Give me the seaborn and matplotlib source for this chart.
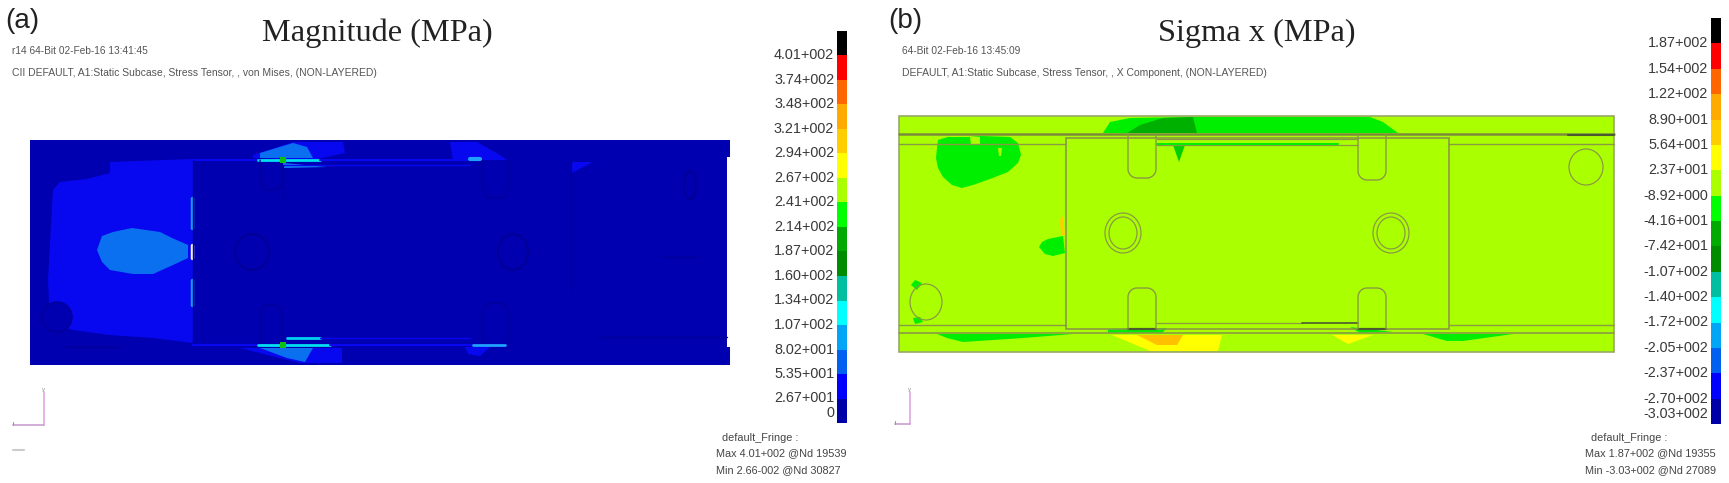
"""Fringe plots of a plate joint: von Mises magnitude and x stress."""

import numpy as np
import pandas as pd
import matplotlib.pyplot as plt
from matplotlib.colors import ListedColormap
from matplotlib.patches import Ellipse, Rectangle
import seaborn as sns

# ── Fringe legends ──────────────────────────────────────────────────────────
FRINGE_COLORS = ["#000000", "#ff0000", "#ff6600", "#ffaa00", "#ffcc00", "#ffff00",
                 "#aaff00", "#00ff00", "#00aa00", "#008c00", "#00bfa0", "#00ffff",
                 "#00a5f5", "#0060f0", "#0000ff", "#0000a8"]
MAG_LEVELS = [401, 374, 348, 321, 294, 267, 241, 214, 187, 160, 134, 107, 80.2, 53.5, 26.7, 0]
MAG_LABELS = ["4.01+002", "3.74+002", "3.48+002", "3.21+002", "2.94+002", "2.67+002",
              "2.41+002", "2.14+002", "1.87+002", "1.60+002", "1.34+002", "1.07+002",
              "8.02+001", "5.35+001", "2.67+001", "0"]
SIG_LEVELS = [187, 154, 122, 89.0, 56.4, 23.7, -8.92, -41.6, -74.2, -107, -140, -172,
              -205, -237, -270, -303]
SIG_LABELS = ["1.87+002", "1.54+002", "1.22+002", "8.90+001", "5.64+001", "2.37+001",
              "-8.92+000", "-4.16+001", "-7.42+001", "-1.07+002", "-1.40+002", "-1.72+002",
              "-2.05+002", "-2.37+002", "-2.70+002", "-3.03+002"]
TICK_ROWS = [1, 2, 3, 4, 5, 6, 7, 8, 9, 10, 11, 12, 13, 14, 15, 15.6]

# ── Panel (a) regions in pixels ─────────────────────────────────────────────
NAVY = "#0000b0"
BLUE = "#0808f0"
SKY = "#0a70f0"
FAINT = "#000098"
A_OUTER = [(30, 140), (730, 140), (730, 157), (727, 157), (727, 347), (730, 347),
           (730, 365), (30, 365)]
A_BLUE_MAIN = [(60, 182), (87, 179), (110, 173), (110, 162), (193, 159), (193, 343),
               (153, 338), (110, 335), (73, 330), (50, 323), (48, 280), (52, 207), (53, 190)]
A_SKY_BLOB = [(97, 250), (102, 236), (113, 232), (132, 228), (160, 232), (172, 238), (188, 245),
              (188, 258), (173, 265), (153, 274), (133, 274), (110, 270), (102, 262)]
A_TOP_LOBE = [(253, 155), (293, 142), (343, 142), (345, 153), (313, 160), (253, 158)]
A_TOP_LOBE_SKY = [(260, 153), (293, 143), (307, 147), (313, 158), (260, 158)]
A_UNDER_TOP = [(283, 163), (327, 167), (283, 168)]
A_BOT_LOBE = [(240, 348), (342, 348), (342, 363), (300, 363)]
A_BOT_LOBE_SKY = [(260, 348), (313, 348), (305, 362), (287, 358)]
A_TOP_RIGHT_LOBE = [(450, 142), (477, 142), (500, 155), (507, 160), (453, 160)]
A_WEDGE = [(572, 162), (593, 162), (572, 173)]
A_BOT_RIGHT = [(465, 347), (490, 347), (480, 356), (468, 354)]
A_LINES = [((193, 258), (160, 160), BLUE, 1.5), ((258, 320), (160, 160), "#00e0f0", 2),
           ((320, 470), (160, 160), BLUE, 1.5), ((470, 480), (159, 159), "#20a0ff", 3),
           ((283, 470), (165, 165), BLUE, 1), ((193, 258), (345, 345), BLUE, 1.5),
           ((258, 330), (345, 345), "#00e0f0", 2), ((330, 475), (345, 345), BLUE, 1.5),
           ((473, 505), (345, 345), "#20a0ff", 2), ((287, 320), (338, 338), "#00d0f0", 2),
           ((320, 470), (338, 338), BLUE, 1), ((192, 192), (198, 228), "#10a0f0", 2.5),
           ((192, 192), (280, 305), "#10a0f0", 2.5), ((192, 192), (245, 258), "#f0f0f0", 2.5)]
A_DARK_LINES = [((193, 193), (160, 343)), ((571, 571), (160, 290)), ((283, 283), (165, 200)),
                ((65, 120), (347, 347)), ((663, 697), (257, 257)), ((600, 727), (337, 337))]
A_DARK_CIRCLES = [(252, 252, 17, 18), (513, 252, 15, 18), (690, 185, 6, 14)]
A_CORNER_DISC = (57, 317, 15, 15)
A_SLOTS = [(260, 282, 160, 190), (483, 508, 160, 198), (260, 282, 343, 305), (483, 508, 343, 303)]
A_HOT = [(283, 160), (283, 345)]

# ── Panel (b) regions ───────────────────────────────────────────────────────
LIME = "#aaff00"
GREEN = "#00ee00"
B_OUTER = [(899, 116), (1614, 116), (1614, 352), (899, 352)]
B_BLOB = [(938, 140), (948, 137), (970, 137), (981, 136), (1010, 137), (1018, 143), (1021, 155),
          (1018, 163), (1008, 172), (990, 179), (973, 185), (962, 188), (952, 185), (943, 177),
          (938, 168), (936, 158), (937, 148)]
B_HOLE_1 = [(970, 137), (980, 137), (980, 145), (971, 145)]
B_HOLE_2 = [(998, 148), (1002, 148), (1001, 156), (999, 156)]
B_SIDE_BLOB = [(1039, 247), (1042, 242), (1048, 239), (1063, 236), (1065, 253), (1053, 256),
               (1045, 254)]
B_RING_TOP = [(911, 285), (915, 280), (922, 283), (917, 290)]
B_RING_BOT = [(913, 318), (920, 317), (923, 322), (915, 324)]
B_TOP_BAND = [(1103, 133), (1110, 122), (1130, 118), (1193, 117), (1370, 117), (1383, 122),
              (1398, 133)]
B_TOP_DARK = [(1127, 133), (1140, 125), (1163, 118), (1193, 117), (1197, 133)]
B_DRIP = [(1173, 145), (1185, 145), (1179, 162)]
B_BOT_LEFT = [(937, 334), (1073, 334), (1023, 338), (963, 342), (947, 338)]
B_BOT_SLOT = [(1108, 329), (1155, 328), (1167, 328), (1162, 333), (1108, 333)]
B_BOT_SLOT_R = [(1350, 327), (1393, 332), (1360, 333)]
B_YELLOW = [(1112, 335), (1222, 335), (1218, 351), (1150, 351)]
B_ORANGE = [(1137, 335), (1183, 335), (1177, 345), (1157, 345)]
B_YELLOW_R = [(1332, 335), (1373, 335), (1348, 344)]
B_BOT_RIGHT = [(1423, 334), (1513, 334), (1463, 341), (1447, 341)]
B_SLIVER = [(1060, 220), (1063, 216), (1065, 235), (1061, 235)]

LINE = "#8a9a44"
DARK = "#4a5a30"
B_LINES = [((899, 1614), (134, 134), "#7c8a3c", 1.8), ((899, 1066), (144, 144), LINE, 1),
           ((1157, 1358), (139, 139), LINE, 0.9), ((1157, 1358), (145, 145), LINE, 0.9),
           ((1449, 1614), (144, 144), LINE, 1), ((899, 1066), (325, 325), LINE, 1),
           ((1449, 1614), (325, 325), LINE, 1), ((1157, 1302), (323, 323), LINE, 0.9),
           ((899, 1614), (333, 333), LINE, 1.2), ((1157, 1338), (144, 144), GREEN, 1.5),
           ((1568, 1614), (135, 135), DARK, 1.5), ((1302, 1358), (323, 323), DARK, 1.2),
           ((1128, 1156), (329, 329), DARK, 1.6), ((1358, 1386), (329, 329), DARK, 1.6)]
B_PLATE = (1066, 138, 383, 191)
B_SLOTS = [(1128, 1156, 134, 178), (1358, 1386, 134, 180), (1128, 1156, 329, 288),
           (1358, 1386, 329, 288)]
B_RINGS = [(1123, 233, 18, 20), (1123, 233, 14, 16), (1391, 233, 18, 20), (1391, 233, 14, 16),
           (926, 302, 16, 18), (1586, 167, 17, 18)]

# ── Text ────────────────────────────────────────────────────────────────────
A_STAMP = "r14 64-Bit 02-Feb-16 13:41:45"
A_SUB = "CII DEFAULT, A1:Static Subcase, Stress Tensor, , von Mises, (NON-LAYERED)"
A_FOOT = ["default_Fringe :", "Max 4.01+002 @Nd 19539", "Min 2.66-002 @Nd 30827"]
B_STAMP = "64-Bit 02-Feb-16 13:45:09"
B_SUB = "DEFAULT, A1:Static Subcase, Stress Tensor, , X Component, (NON-LAYERED)"
B_FOOT = ["default_Fringe :", "Max 1.87+002 @Nd 19355", "Min -3.03+002 @Nd 27089"]

W, H = 1729, 483
sns.set_theme(style="white")
plt.rcParams["font.family"] = ["Liberation Sans", "DejaVu Sans"]


def fill(ax, poly, color, z=2):
    xs, ys = zip(*poly)
    ax.fill(xs, ys, color=color, lw=0, zorder=z)


def slot(ax, x0, x1, y_open, y_round, color, lw, z=5):
    # U shape with rounded corners at its closed end
    r = 9
    sign = 1 if y_round > y_open else -1
    t = np.linspace(0, np.pi / 2, 8)
    left_x = x0 + r - r * np.cos(t)
    left_y = y_round - sign * r + sign * r * np.sin(t)
    xs = np.r_[x0, left_x, (x0 + x1 - left_x)[::-1], x1]
    ys = np.r_[y_open, left_y, left_y[::-1], y_open]
    ax.plot(xs, ys, color=color, lw=lw, zorder=z)


def fringe(fig, box, levels, labels):
    x0, y0, x1, y1 = box
    ax = fig.add_axes([x0 / W, 1 - y1 / H, (x1 - x0) / W, (y1 - y0) / H])
    table = pd.DataFrame({"level": levels})
    table["rank"] = table["level"].rank()
    sns.heatmap(table[["rank"]], ax=ax, cmap=ListedColormap(FRINGE_COLORS[::-1]), cbar=False,
                xticklabels=False, linewidths=0)
    ax.set_yticks(TICK_ROWS, labels, rotation=0, fontsize=10.4, color="#3a3a3a")
    ax.tick_params(axis="y", length=0, pad=2)
    ax.set_xlabel("")
    ax.set_ylabel("")


def panel_a(ax):
    fill(ax, A_OUTER, NAVY, 1)
    for poly, color in [(A_BLUE_MAIN, BLUE), (A_SKY_BLOB, SKY), (A_TOP_LOBE, BLUE),
                        (A_TOP_LOBE_SKY, SKY), (A_UNDER_TOP, "#1080f0"), (A_BOT_LOBE, BLUE),
                        (A_BOT_LOBE_SKY, SKY), (A_TOP_RIGHT_LOBE, BLUE), (A_WEDGE, BLUE),
                        (A_BOT_RIGHT, BLUE)]:
        fill(ax, poly, color)
    for xs, ys, color, lw in A_LINES:
        ax.plot(xs, ys, color=color, lw=lw, zorder=3)
    for xs, ys in A_DARK_LINES:
        ax.plot(xs, ys, color=FAINT, lw=1, zorder=4)
    for cx, cy, rx, ry in A_DARK_CIRCLES:
        ax.add_patch(Ellipse((cx, cy), 2 * rx, 2 * ry, fill=False, ec=FAINT, lw=1.6, zorder=4))
    cx, cy, rx, ry = A_CORNER_DISC
    ax.add_patch(Ellipse((cx, cy), 2 * rx, 2 * ry, fc=NAVY, ec=FAINT, lw=1, zorder=4))
    for x0, x1, y_open, y_round in A_SLOTS:
        slot(ax, x0, x1, y_open, y_round, FAINT, 1)
    xs, ys = zip(*A_HOT)
    ax.scatter(xs, ys, s=14, color="#10c010", marker="s", lw=0, zorder=6)


def panel_b(ax):
    fill(ax, B_OUTER, LIME, 1)
    for poly, color in [(B_BLOB, GREEN), (B_HOLE_1, LIME), (B_HOLE_2, LIME), (B_SIDE_BLOB, GREEN),
                        (B_RING_TOP, GREEN), (B_RING_BOT, GREEN), (B_TOP_BAND, GREEN),
                        (B_TOP_DARK, "#00b000"), (B_DRIP, "#00d000"), (B_BOT_LEFT, GREEN),
                        (B_BOT_SLOT, GREEN), (B_BOT_SLOT_R, GREEN), (B_YELLOW, "#ffff00"),
                        (B_ORANGE, "#ffc000"), (B_YELLOW_R, "#ffff00"), (B_BOT_RIGHT, GREEN),
                        (B_SLIVER, "#ffd000")]:
        fill(ax, poly, color)
    x0, y0, w, h = B_PLATE
    ax.add_patch(Rectangle((x0, y0), w, h, fill=False, ec=LINE, lw=1.2, zorder=4))
    ax.add_patch(Rectangle((899, 116), 715, 236, fill=False, ec="#98a868", lw=1.2, zorder=4))
    for xs, ys, color, lw in B_LINES:
        ax.plot(xs, ys, color=color, lw=lw, zorder=5)
    for x0, x1, y_open, y_round in B_SLOTS:
        slot(ax, x0, x1, y_open, y_round, LINE, 1)
    for cx, cy, rx, ry in B_RINGS:
        ax.add_patch(Ellipse((cx, cy), 2 * rx, 2 * ry, fill=False, ec=LINE, lw=0.9, zorder=5))


def triad(ax, x, y_top, y_low, x_left):
    ax.plot([x, x], [y_top, y_low], color="#dca8e0", lw=1.2)
    ax.plot([x_left, x], [y_low, y_low], color="#c8a0d0", lw=1.2)
    ax.plot([x_left, x_left], [y_low - 3, y_low], color="#999999", lw=0.8)
    ax.text(x, y_top - 2, "y", fontsize=4.5, color="#888888", ha="center", va="center")


def add_text(ax):
    ax.text(5, 21, "(a)", fontsize=20, color="#222222", va="center")
    ax.text(888, 21, "(b)", fontsize=20, color="#222222", va="center")
    for x, s in [(262, "Magnitude (MPa)"), (1158, "Sigma x (MPa)")]:
        ax.text(x, 33, s, fontsize=23.3, family=["Liberation Serif"], color="#222222", va="center")
    for x, stamp, sub in [(12, A_STAMP, A_SUB), (902, B_STAMP, B_SUB)]:
        ax.text(x, 51, stamp, fontsize=7.3, color="#555555", va="center")
        ax.text(x, 73, sub, fontsize=7.45, color="#555555", va="center")
    for x, lines in [(716, A_FOOT), (1585, B_FOOT)]:
        ax.text(x + 6, 438, lines[0], fontsize=7.8, color="#444444", va="center")
        ax.text(x, 453, lines[1], fontsize=7.8, color="#444444", va="center")
        ax.text(x, 470, lines[2], fontsize=7.8, color="#444444", va="center")


def main():
    fig = plt.figure(figsize=(W / 100, H / 100), dpi=100, facecolor="white")
    ax = fig.add_axes([0, 0, 1, 1])
    ax.set_xlim(0, W)
    ax.set_ylim(H, 0)
    ax.axis("off")

    panel_a(ax)
    panel_b(ax)
    triad(ax, 44, 392, 425, 13)
    triad(ax, 910, 392, 424, 895)
    ax.plot([13, 24], [450, 450], color="#cccccc", lw=1.5)
    add_text(ax)
    fringe(fig, (837, 31, 847, 423), MAG_LEVELS, MAG_LABELS)
    fringe(fig, (1711, 18, 1721, 424), SIG_LEVELS, SIG_LABELS)

    fig.savefig("out.png", dpi=100)
    plt.close(fig)


if __name__ == "__main__":
    main()
